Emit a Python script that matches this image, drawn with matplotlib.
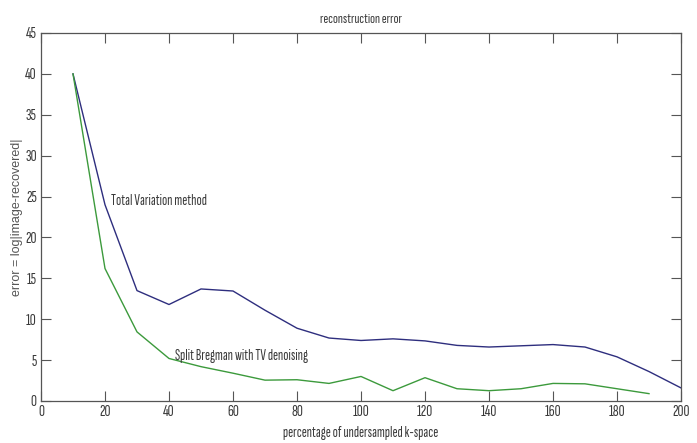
import matplotlib
matplotlib.use("Agg")
import matplotlib.pyplot as plt

x_tv = [10, 20, 30, 40, 50, 60, 70, 80, 90, 100, 110, 120, 130, 140, 150, 160, 170, 180, 190, 200]
err_tv = [40.0, 24.0, 13.5, 11.8, 13.7, 13.45, 11.1, 8.9, 7.7, 7.4, 7.6, 7.35, 6.8, 6.6, 6.75, 6.9, 6.6, 5.4, 3.6, 1.6]
x_sb = [10, 20, 30, 40, 50, 60, 70, 80, 90, 100, 110, 120, 130, 140, 150, 160, 170, 180, 190]
err_sb = [40.0, 16.2, 8.45, 5.2, 4.2, 3.4, 2.55, 2.6, 2.15, 3.0, 1.26, 2.85, 1.5, 1.26, 1.5, 2.15, 2.1, 1.5, 0.9]
xticks = [0, 20, 40, 60, 80, 100, 120, 140, 160, 180, 200]
yticks = [0, 5, 10, 15, 20, 25, 30, 35, 40, 45]

narrow = ['Sofia Sans Extra Condensed', 'DejaVu Sans']

fig = plt.figure(figsize=(6.97, 4.43), dpi=100)
ax = fig.add_axes([41/697, 1-401/443, 640/697, 368/443])
ax.plot(x_tv, err_tv, color='#2e2e7e', lw=1.0)
ax.plot(x_sb, err_sb, color='#3c9a3c', lw=1.0)
ax.set_xlim(0, 200)
ax.set_ylim(0, 45)
ax.set_xticks(xticks)
ax.set_yticks(yticks)
ax.tick_params(direction='in', top=True, right=True, length=7, width=0.8, colors='#555555',
               labelcolor='#3a3a3a', labelsize=12, pad=3)
for lab in ax.get_xticklabels() + ax.get_yticklabels():
    lab.set_family(narrow)
for s in ax.spines.values():
    s.set_color('#555555')
    s.set_linewidth(0.9)
ax.set_title('reconstruction error', fontsize=10.5, family=narrow, color='#3a3a3a', pad=7)
ax.set_xlabel('percentage of undersampled k-space', fontsize=11, family=narrow, color='#3a3a3a', labelpad=5)
ax.set_ylabel('error = log|image-recovered|', fontsize=9, family=['Liberation Sans', 'DejaVu Sans'],
              color='#555555')
ax.yaxis.set_label_coords(-0.028, 0.5)
ax.text(22, 24.4, 'Total Variation method', fontsize=11, family=narrow, color='#3a3a3a', va='center')
ax.text(42, 5.5, 'Split Bregman with TV denoising', fontsize=11, family=narrow, color='#3a3a3a', va='center')
fig.savefig('out.png', dpi=100)
